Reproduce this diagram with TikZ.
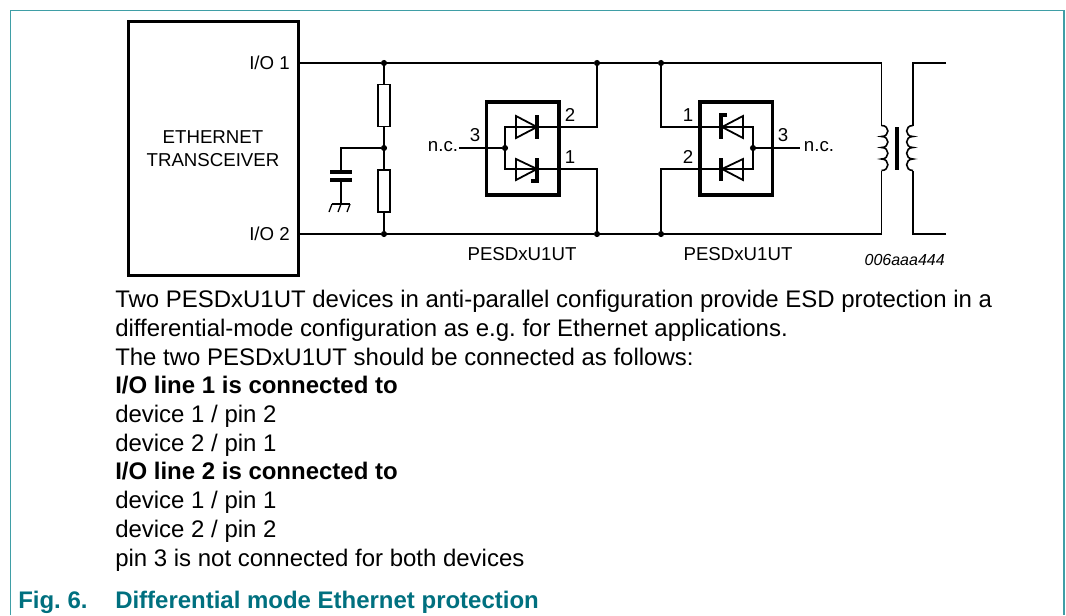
\documentclass[tikz,border=0pt]{standalone}
\usepackage{fontspec}
\setmainfont{Liberation Sans}
\definecolor{teal1}{HTML}{00707F}
\definecolor{frame1}{HTML}{3F9EA6}
\tikzset{
  wire/.style={line width=1.6pt*0.75,line join=miter},
  thick box/.style={draw,line width=3.4pt*0.75,inner sep=0pt,anchor=north west},
  diode/.style={draw,line width=1.8pt*0.75,line join=miter},
  bar/.style={draw,line width=3.2pt*0.75,line join=miter},
  dot/.style={circle,fill=black,inner sep=0pt,minimum size=4.6pt},
  lbl/.style={inner sep=0pt,font=\fontsize{14pt}{17pt}\selectfont},
  body/.style={inner sep=0pt,anchor=base west,font=\fontsize{17.98pt}{22pt}\selectfont},
  bodybold/.style={body,font=\fontsize{17.98pt}{22pt}\selectfont\bfseries},
  captext/.style={inner sep=0pt,anchor=base west,text=teal1,font=\fontsize{17.98pt}{22pt}\selectfont\bfseries},
  res/.style={draw,line width=1.7pt*0.75,fill=white,inner sep=0pt,minimum width=9.5pt,minimum height=31.5pt},
  plate/.style={line width=3.6pt*0.75},
  hatch/.style={line width=1.3pt*0.75}
}
\begin{document}
\frenchspacing
\begin{tikzpicture}[x=0.75pt,y=-0.75pt]
\useasboundingbox (0,0) rectangle (1066,615);
% frame
\coordinate (fa) at (10.5,615);\coordinate (fb) at (10.5,10.5);\coordinate (fc) at (1064,10.5);\coordinate (fd) at (1064,615);
\draw[frame1,line width=1.8pt*0.75] (fa) -- (fb) -- (fc) -- (fd);
% transceiver
\node[thick box,minimum width=127.5pt,minimum height=190.3pt] (tx) at (126.8,19.8) {};
\node[lbl,align=center,font=\fontsize{14pt}{17.2pt}\selectfont] (txl) at (213,149) {ETHERNET\\TRANSCEIVER};
\coordinate (io1) at (300,63);
\coordinate (io2) at (300,234);
\node[lbl,anchor=base east] (l1) at (290,69) {I/O 1};
\node[lbl,anchor=base east] (l2) at (290,240) {I/O 2};
% junctions
\node[dot] (ja) at (384,63) {};
\node[dot] (jb) at (384,148) {};
\node[dot] (jc) at (384,234) {};
\node[dot] (jd) at (597,63) {};
\node[dot] (je) at (597,234) {};
\node[dot] (jf) at (661,63) {};
\node[dot] (jg) at (661,234) {};
\coordinate (lt) at (881.5,63);
\coordinate (lb) at (881.5,234);
\coordinate (lct) at (881.5,125.5);
\coordinate (lcb) at (881.5,170.5);
\coordinate (rt) at (913,63);
\coordinate (rb) at (913,234);
\coordinate (rct) at (913,125.5);
\coordinate (rcb) at (913,170.5);
\coordinate (rte) at (946,63);
\coordinate (rbe) at (946,234);
\draw[wire] (io1) -- (ja) -- (jd) -- (jf) -- (lt) -- (lct);
\draw[wire] (io2) -- (jc) -- (je) -- (jg) -- (lb) -- (lcb);
\draw[wire] (rte) -- (rt) -- (rct);
\draw[wire] (rbe) -- (rb) -- (rcb);
% resistors
\draw[wire] (ja) -- (jc);
\node[res] (r1) at (384,105.5) {};
\node[res] (r2) at (384,191) {};
% capacitor
\coordinate (cw) at (341,148);
\coordinate (cp1) at (341,172);
\coordinate (cp2) at (341,180);
\coordinate (gnd) at (341,204);
\draw[wire] (jb) -- (cw) -- (cp1);
\draw[wire] (cp2) -- (gnd);
\draw[plate] (330,172) -- (352,172);
\draw[plate] (330,180) -- (352,180);
\draw[hatch] (332,204) -- (350,204);
\draw[hatch] (332,204) -- (329,212);
\draw[hatch] (341,204) -- (338,212);
\draw[hatch] (350,204) -- (347,212);
% device 1
\node[thick box,minimum width=54.2pt,minimum height=69.75pt] (d1) at (485,100.3) {};
\coordinate (a1) at (505,127);\coordinate (a2) at (505,169);
\coordinate (b1) at (597,127);\coordinate (b2) at (597,169);
\node[dot] (j1) at (505,148) {};
\coordinate (nc1) at (459,148);
\draw[wire] (jd) -- (b1) -- (a1) -- (a2) -- (b2) -- (je);
\draw[wire] (nc1) -- (j1);
\draw[diode] (516,116) -- (516,138) -- (537,127) -- cycle;
\draw[diode] (516,159) -- (516,180) -- (537,169) -- cycle;
\draw[bar] (537,115) -- (537,139);
\draw[bar] (537,158) -- (537,181) -- (531,181);
\node[lbl] (p13) at (475,135.5) {3};
\node[lbl] (p12) at (570,115) {2};
\node[lbl] (p11) at (570,157) {1};
\node[lbl] (nc1l) at (443,147) {n.c.};
\node[lbl] (n1) at (522,254) {PESDxU1UT};
% device 2
\node[thick box,minimum width=54.5pt,minimum height=69.75pt] (d2) at (698.3,100.3) {};
\coordinate (c1) at (661,127);\coordinate (c2) at (661,169);
\coordinate (e1) at (753,127);\coordinate (e2) at (753,169);
\node[dot] (j2) at (753,148) {};
\coordinate (nc2) at (800,148);
\draw[wire] (jf) -- (c1) -- (e1) -- (e2) -- (c2) -- (jg);
\draw[wire] (j2) -- (nc2);
\draw[diode] (743,116) -- (743,138) -- (722,127) -- cycle;
\draw[diode] (743,159) -- (743,180) -- (722,169) -- cycle;
\draw[bar] (727,115) -- (721,115) -- (721,139);
\draw[bar] (721,158) -- (721,181);
\node[lbl] (p21) at (688,115) {1};
\node[lbl] (p22) at (688,157) {2};
\node[lbl] (p23) at (783,135.5) {3};
\node[lbl] (nc2l) at (819,147) {n.c.};
\node[lbl] (n2) at (738,254) {PESDxU1UT};
\node[inner sep=0pt,anchor=base east,font=\fontsize{12pt}{14pt}\selectfont\itshape] (code) at (945,265) {006aaa444};
% transformer
\draw[line width=4pt*0.75] (897,127) -- (897,170);
\draw[wire] (lct) .. controls (890,125.5) and (890,136.5) .. (881.5,136.5) .. controls (890,136.5) and (890,147.5) .. (881.5,147.5) .. controls (890,147.5) and (890,159) .. (881.5,159) .. controls (890,159) and (890,170.5) .. (lcb);
\draw[wire] (rct) .. controls (904.5,125.5) and (904.5,136.5) .. (913,136.5) .. controls (904.5,136.5) and (904.5,147.5) .. (913,147.5) .. controls (904.5,147.5) and (904.5,159) .. (913,159) .. controls (904.5,159) and (904.5,170.5) .. (rcb);
% text
\node[body] (t1) at (115,307) {Two PESDxU1UT devices in anti-parallel configuration provide ESD protection in a};
\node[body] (t2) at (115,336) {differential-mode configuration as e.g. for Ethernet applications.};
\node[body] (t3) at (115,365) {The two PESDxU1UT should be connected as follows:};
\node[bodybold] (t4) at (115,393) {I/O line 1 is connected to};
\node[body] (t5) at (115,422) {device 1 / pin 2};
\node[body] (t6) at (115,451) {device 2 / pin 1};
\node[bodybold] (t7) at (115,479) {I/O line 2 is connected to};
\node[body] (t8) at (115,508) {device 1 / pin 1};
\node[body] (t9) at (115,537) {device 2 / pin 2};
\node[body] (t10) at (115,566) {pin 3 is not connected for both devices};
\node[captext] (f1) at (18,608) {Fig. 6.};
\node[captext] (f2) at (115,608) {Differential mode Ethernet protection};
\end{tikzpicture}
\end{document}
